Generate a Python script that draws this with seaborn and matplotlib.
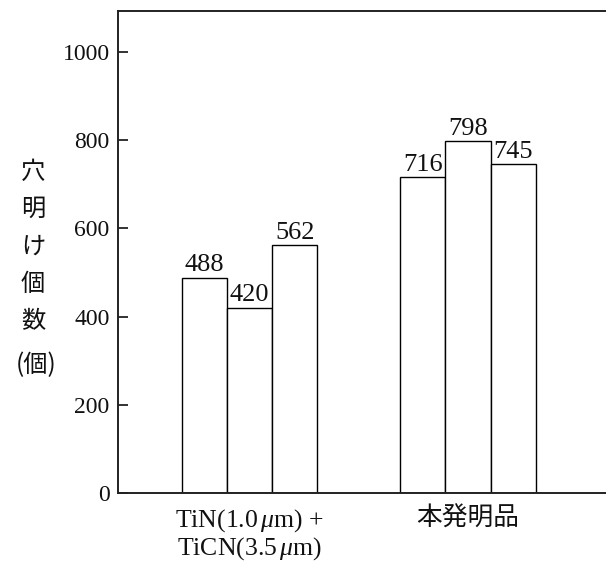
import matplotlib
matplotlib.use("Agg")
import matplotlib.pyplot as plt
import seaborn as sns
import pandas as pd

groups = ["TiN(1.0$\\,\\mu$m) +\nTiCN(3.5$\\,\\mu$m)", "本発明品"]
samples = ["1", "2", "3"]
values_group1 = [488, 420, 562]
values_group2 = [716, 798, 745]
y_ticks = [0, 200, 400, 600, 800, 1000]
ylabel_chars = ["穴", "明", "け", "個", "数"]
ylabel_unit = "(個)"

rows = []
for g, vals in zip(groups, [values_group1, values_group2]):
    for s, v in zip(samples, vals):
        rows.append({"group": g, "sample": s, "count": v})
df = pd.DataFrame(rows)

sns.set_theme(style="white")
plt.rcParams["font.family"] = ["Liberation Serif", "Noto Sans CJK JP", "DejaVu Sans"]
plt.rcParams["mathtext.fontset"] = "custom"
plt.rcParams["mathtext.rm"] = "Liberation Serif"
plt.rcParams["mathtext.it"] = "Liberation Serif:italic"

fig = plt.figure(figsize=(6.06, 5.63), dpi=100)
ax = fig.add_axes([118 / 606, 1 - 493 / 563, 1 - 118 / 606 + 0.01, (493 - 11) / 563])

sns.barplot(data=df, x="group", y="count", hue="sample", order=groups,
            hue_order=samples, palette=["white"] * 3, edgecolor="black",
            linewidth=1.0, width=0.62, gap=0, legend=False, ax=ax)

for c in ax.containers:
    ax.bar_label(c, fmt="%d", padding=1, fontsize=19, color="#111111")

ax.set_ylim(0, 1093)
ax.set_xlim(-0.603, 1.66)
ax.set_yticks(y_ticks)
ax.set_xlabel("")
ax.set_ylabel("")
ax.tick_params(axis="y", direction="in", length=7, width=1.2, left=True,
               labelsize=17, pad=6, colors="#111111")
ax.tick_params(axis="x", length=0, labelsize=18.5, pad=10, colors="#111111")
for lab in ax.get_xticklabels():
    lab.set_linespacing(1.05)

for side in ["left", "top", "bottom"]:
    ax.spines[side].set_visible(True)
    ax.spines[side].set_color("#222222")
    ax.spines[side].set_linewidth(1.4)
ax.spines["right"].set_visible(False)

y0 = 172
for i, ch in enumerate(ylabel_chars):
    fig.text(33 / 606, 1 - (y0 + i * 37.2) / 563, ch, ha="center", va="center",
             fontsize=17.5, family=["Noto Sans CJK JP"], color="#111111")
fig.text(36 / 606, 1 - 365 / 563, ylabel_unit, ha="center", va="center",
         fontsize=17.5, family=["Noto Sans CJK JP"], color="#111111")

fig.savefig("out.png", dpi=100)
